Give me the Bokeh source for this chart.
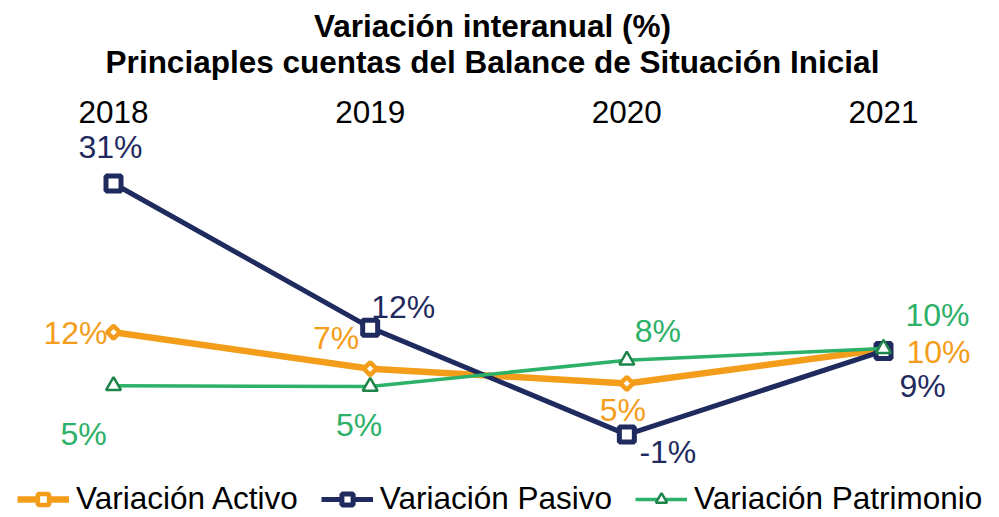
import math
from bokeh.plotting import figure
from bokeh.models import Range1d, Legend, LegendItem, ColumnDataSource
from bokeh.core.properties import value
from bokeh.embed import file_html
from bokeh.resources import INLINE

# ---------------- data ----------------
years = ["2018", "2019", "2020", "2021"]
activo = [11.8, 7.1, 5.2, 9.6]
pasivo = [31.0, 12.4, -1.4, 9.4]
patrimonio = [4.9, 4.8, 8.2, 9.7]
series_names = ["Variación Activo", "Variación Pasivo", "Variación Patrimonio"]
title_lines = ["Variación interanual (%)",
               "Princiaples cuentas del Balance de Situación Inicial"]

# ---------------- layout / style ----------------
W, H = 999, 517
X_START, X_END = -0.4403, 3.4519
Y_START, Y_END = -12.10, 54.61
FONT = "Liberation Sans"
ORANGE = "#F49D1A"
NAVY = "#1F2A5E"
GREEN = "#2DB067"
DARKGREEN = "#1E8449"

# label offsets (px) relative to each point
off_activo = [(-38, 1), (-34, -31), (-4, 27), (55, 3)]
off_pasivo = [(-3, -36), (33, -21), (41, 17), (39, 35)]
off_patr = [(-30, 48), (-11, 38), (31, -29), (54, -34)]


def fx(page_x):
    return X_START + page_x / W * (X_END - X_START)


def fy(page_y):
    return Y_END - page_y / H * (Y_END - Y_START)


p = figure(width=W, height=H, output_backend="svg", toolbar_location=None,
           x_range=Range1d(X_START, X_END), y_range=Range1d(Y_START, Y_END),
           x_axis_type=None, y_axis_type=None, title_location=None,
           min_border=0, min_border_left=0, min_border_right=0,
           min_border_top=0, min_border_bottom=0)
p.grid.visible = False
p.outline_line_color = None
p.background_fill_color = "white"
p.border_fill_color = "white"

xs = list(range(len(years)))


def make_src(vals, offs):
    return ColumnDataSource(dict(
        x=xs, y=vals,
        label=[f"{round(v):.0f}%" for v in vals],
        dx=[o[0] for o in offs], dy=[o[1] for o in offs]))


src_a = make_src(activo, off_activo)
src_p = make_src(pasivo, off_pasivo)
src_t = make_src(patrimonio, off_patr)

# Activo
l1 = p.line("x", "y", source=src_a, line_color=ORANGE, line_width=6.5)
s1 = p.scatter("x", "y", source=src_a, marker="square", angle=math.pi / 4,
               size=9, fill_color="white", line_color=ORANGE, line_width=4.5)
# Pasivo
l2 = p.line("x", "y", source=src_p, line_color=NAVY, line_width=5)
s2 = p.scatter("x", "y", source=src_p, marker="square", size=15,
               fill_color="white", line_color=NAVY, line_width=5)
# Patrimonio
l3 = p.line("x", "y", source=src_t, line_color=GREEN, line_width=3.5)
s3 = p.scatter("x", "y", source=src_t, marker="triangle", size=15,
               fill_color="white", line_color=DARKGREEN, line_width=2.5)

for src, col in ((src_a, ORANGE), (src_p, NAVY), (src_t, GREEN)):
    p.text("x", "y", text="label", source=src, x_offset="dx", y_offset="dy",
           text_align="center", text_baseline="middle",
           text_font=value(FONT), text_font_size="32px", text_color=col)

# year labels at top
ysrc = ColumnDataSource(dict(x=xs, y=[fy(111)] * len(years), t=years))
p.text("x", "y", text="t", source=ysrc, text_align="center",
       text_baseline="middle", text_font=value(FONT), text_font_size="31.5px",
       text_color="black")

# title (two lines)
tsrc = ColumnDataSource(dict(x=[fx(492)] * len(title_lines),
                             y=[fy(25), fy(61)], t=title_lines))
p.text("x", "y", text="t", source=tsrc, text_align="center",
       text_baseline="middle", text_font=value(FONT), text_font_size="31.5px",
       text_font_style="bold", text_color="black")

legend = Legend(items=[
    LegendItem(label=series_names[0], renderers=[l1, s1]),
    LegendItem(label=series_names[1], renderers=[l2, s2]),
    LegendItem(label=series_names[2], renderers=[l3, s3]),
], orientation="horizontal", location=(17, 0), margin=0, padding=0,
    glyph_width=52, glyph_height=28, label_standoff=7, spacing=23,
    label_text_font=FONT, label_text_font_size="31.5px",
    label_text_color="black",
    border_line_color=None, background_fill_alpha=0)
p.add_layout(legend)

open("out.html", "w").write(file_html(p, INLINE))
